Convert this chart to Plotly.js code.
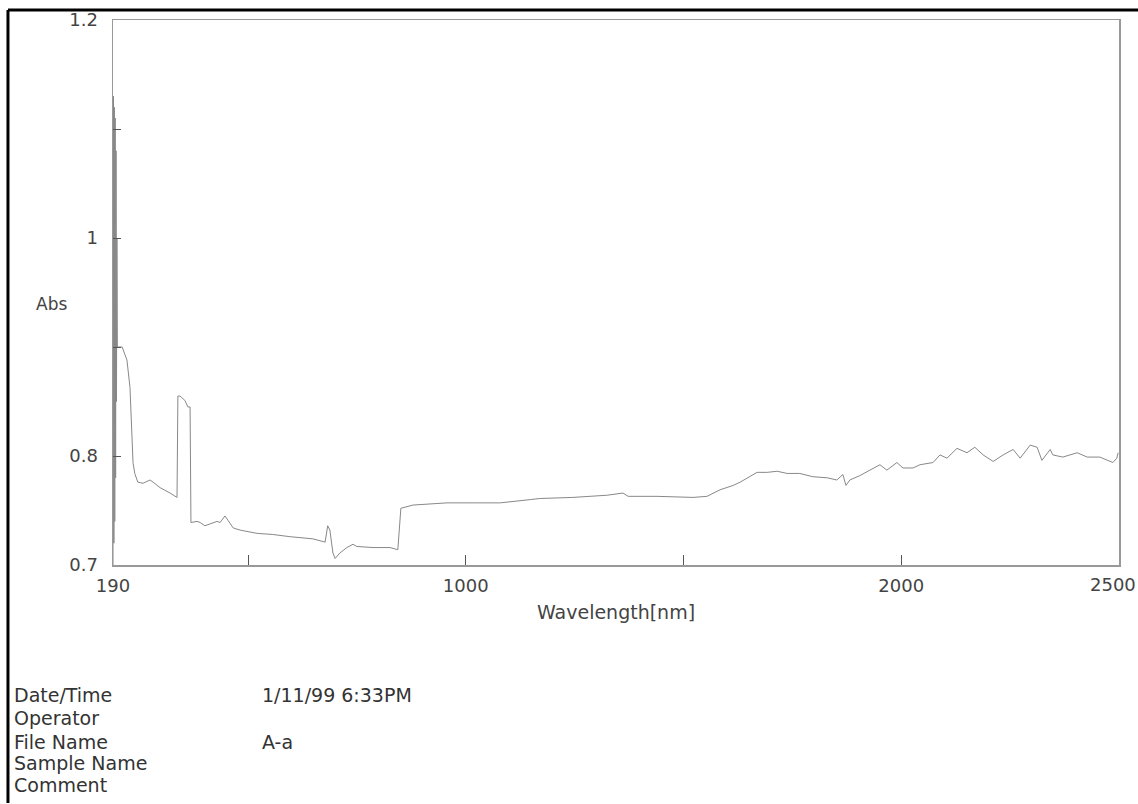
<!DOCTYPE html>
<html>
<head>
<meta charset="utf-8">
<script src="https://cdn.plot.ly/plotly-3.0.1.min.js"></script>
<style>html,body{margin:0;padding:0;background:#fff;}#chart{width:1138px;height:804px;}</style>
</head>
<body>
<div id="chart"></div>
<script>
// Wavelength (nm)
const wavelength = [190,191,192,193,194,195,196,197,198,199,200,211,222,229,236,240,247,259,275,282,298,321,337,
  339,344,355,362,367,369,383,390,401,420,429,436,447,454,466,482,521,557,596,649,677,683,688,695,700,711,727,741,750,
  787,826,844,851,879,957,1017,1079,1148,1170,1246,1324,1361,1373,1439,1522,1554,1584,1614,1630,1669,1692,1715,1738,
  1767,1797,1830,1852,1866,1873,1882,1905,1928,1951,1967,1990,2004,2027,2043,2073,2089,2105,2128,2151,2169,2188,2211,
  2234,2257,2273,2296,2312,2323,2342,2348,2371,2404,2427,2456,2475,2486,2495,2498];
// Absorbance
const absorbance = [0.70,1.13,0.72,1.12,0.74,1.11,0.78,1.08,0.85,1.00,0.90,0.900,0.888,0.863,0.794,0.784,0.776,0.775,0.778,0.776,0.771,0.766,0.762,
  0.855,0.855,0.851,0.845,0.845,0.739,0.740,0.739,0.736,0.739,0.740,0.739,0.745,0.741,0.734,0.732,0.729,0.728,0.726,0.724,0.721,0.736,0.732,0.711,0.706,0.711,0.716,0.719,0.717,
  0.716,0.716,0.714,0.752,0.755,0.757,0.757,0.757,0.760,0.761,0.762,0.764,0.766,0.763,0.763,0.762,0.763,0.769,0.773,0.776,0.785,0.785,0.786,0.784,
  0.784,0.781,0.780,0.778,0.783,0.773,0.778,0.782,0.787,0.792,0.787,0.794,0.789,0.789,0.792,0.794,0.801,0.798,0.807,0.803,0.808,0.801,0.795,
  0.801,0.806,0.798,0.810,0.808,0.796,0.806,0.801,0.799,0.803,0.799,0.799,0.796,0.794,0.798,0.803];

const xTickVals = [190,500,1000,1500,2000,2500];
const xTickText = ["190","","1000","","2000",""];
const lastXLabel = "2500";
const yTickVals = [0.7,0.8,0.9,1.0,1.1,1.2];
const yTickText = ["0.7","0.8","","1","","1.2"];

const infoLabels = ["Date/Time","Operator","File Name","Sample Name","Comment"];
const infoValues = ["1/11/99 6:33PM","","A-a","",""];

const infoY = [-0.2385,-0.2807,-0.3248,-0.3633,-0.4037];
const annotations = [];
infoLabels.forEach((t,i)=>{
  annotations.push({text:t,xref:'paper',yref:'paper',x:-0.1004,y:infoY[i],xanchor:'left',yanchor:'middle',showarrow:false,
    font:{family:'DejaVu Sans',size:19,color:'#333'}});
  if(infoValues[i]) annotations.push({text:infoValues[i],xref:'paper',yref:'paper',x:0.1461,y:infoY[i],xanchor:'left',yanchor:'middle',showarrow:false,
    font:{family:'DejaVu Sans',size:19,color:'#333'}});
});
annotations.push({text:'Abs',xref:'paper',yref:'paper',x:-0.061,y:0.479,xanchor:'center',yanchor:'middle',showarrow:false,
  font:{family:'DejaVu Sans',size:17,color:'#444'}});
annotations.push({text:'Wavelength[nm]',xref:'paper',yref:'paper',x:0.5,y:-0.0862,xanchor:'center',yanchor:'middle',showarrow:false,
  font:{family:'DejaVu Sans',size:19,color:'#444'}});
// last x tick label, kept inside the page
annotations.push({text:lastXLabel,xref:'paper',yref:'paper',x:1.0179,y:-0.0150,xanchor:'right',yanchor:'top',showarrow:false,
  font:{family:'DejaVu Sans',size:18,color:'#444'},borderpad:0});

const axisFont = {family:'DejaVu Sans',size:18,color:'#444'};
const layout = {
  width:1138, height:804,
  margin:{l:113,r:19,t:20,b:239,pad:0},
  paper_bgcolor:'#fff', plot_bgcolor:'#fff',
  showlegend:false,
  xaxis:{range:[190,2500],tickmode:'array',tickvals:xTickVals,ticktext:xTickText,ticks:'inside',ticklen:10,tickcolor:'#555',
    showline:true,mirror:true,linecolor:'#999',linewidth:1.5,showgrid:false,zeroline:false,tickfont:axisFont,ticklabelstandoff:4},
  yaxis:{range:[0.7,1.2],tickmode:'array',tickvals:yTickVals,ticktext:yTickText,ticks:'inside',ticklen:8,tickcolor:'#555',
    showline:true,mirror:true,linecolor:'#999',linewidth:1.5,showgrid:false,zeroline:false,tickfont:axisFont,ticklabelstandoff:10},
  annotations:annotations,
  shapes:[
    {type:'line',xref:'paper',yref:'paper',x0:-0.1044,x1:1.0189,y0:1.0183,y1:1.0183,line:{color:'#000',width:3}},
    {type:'line',xref:'paper',yref:'paper',x0:-0.1044,x1:-0.1044,y0:1.0183,y1:-0.4367,line:{color:'#000',width:3}}
  ]
};
Plotly.newPlot('chart',[{x:wavelength,y:absorbance,type:'scatter',mode:'lines',line:{color:'#888',width:1},hoverinfo:'skip'}],layout,{displayModeBar:false,staticPlot:true});
</script>
</body>
</html>
